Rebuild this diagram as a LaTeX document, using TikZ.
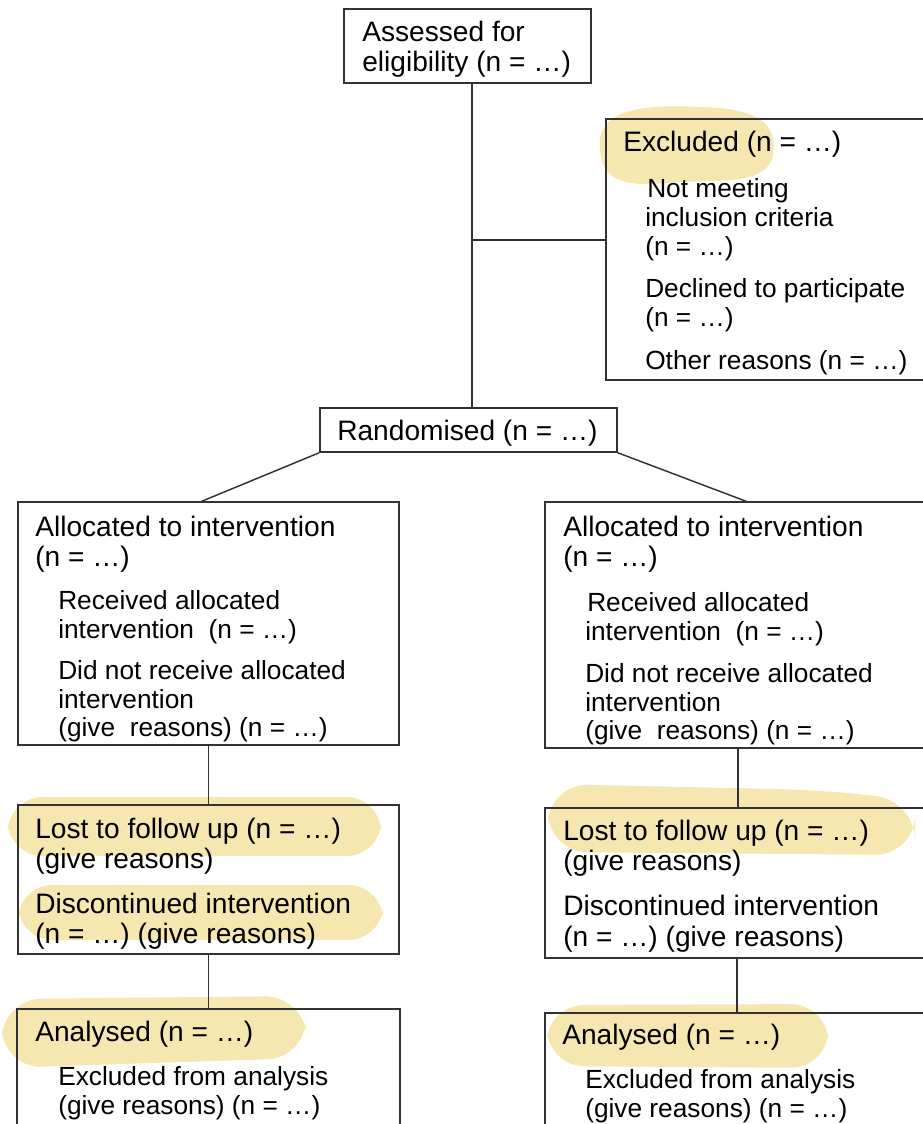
\documentclass[tikz,border=0pt]{standalone}
\usepackage{fontspec}
\setmainfont{Liberation Sans}
\usetikzlibrary{fit,calc}
\definecolor{hl}{RGB}{246,231,176}
\definecolor{ln}{RGB}{50,50,50}
\tikzset{
  box/.style={draw=ln, line width=1.1pt, inner sep=0pt, rectangle},
  conn/.style={draw=ln, line width=1.1pt},
  txt/.style={anchor=base west, inner sep=0pt, font=\fontsize{21.1pt}{25pt}\selectfont, text=black},
  sub/.style={txt, font=\fontsize{19.7pt}{24pt}\selectfont},
  hlight/.style={fill=hl, draw=none, rounded corners=26pt}
}
\begin{document}
\begin{tikzpicture}[x=0.75pt,y=-0.75pt]
\useasboundingbox (0,0) rectangle (923,1124);
% highlights
\fill[hl] (600,150) .. controls (595,110) and (640,104) .. (700,107) .. controls (760,108) and (778,125) .. (773,155) .. controls (768,185) and (720,180) .. (680,182) .. controls (640,185) and (603,190) .. (600,150) -- cycle;
\path[hlight] (8,797) rectangle (381,856);
\path[hlight] (18,885) rectangle (383,940);
\path[hlight, rounded corners=30pt] (2,999) -- (305,996) -- (307,1058) -- (60,1066) -- (2,1068) -- cycle;
\path[hlight, rounded corners=30pt] (548,784) -- (820,790) -- (915,800) -- (915,855) -- (548,852) -- cycle;
\path[hlight, rounded corners=28pt] (547,1005) -- (828,1004) -- (828,1068) -- (547,1066) -- cycle;
% boxes
\node[box, fit={(344,9) (591,83)}] (assess) {};
\node[box, fit={(606,119) (950,380)}] (excl) {};
\node[box, fit={(320,408) (617,452)}] (rand) {};
\node[box, fit={(18,502) (399,745)}] (allocL) {};
\node[box, fit={(545,502) (950,748)}] (allocR) {};
\node[box, fit={(18,805) (399,954)}] (lostL) {};
\node[box, fit={(545,808) (950,958)}] (lostR) {};
\node[box, fit={(17,1009) (400,1160)}] (anaL) {};
\node[box, fit={(545,1013) (950,1160)}] (anaR) {};
% connectors
\coordinate (top) at (472,83);
\coordinate (br) at (472,240);
\draw[conn] (top) -- (top |- rand.north);
\draw[conn] (br) -- (br -| excl.west);
\coordinate (dl) at (200,502);
\coordinate (dr) at (748,502);
\draw[conn] (rand.south west) -- (dl);
\draw[conn] (rand.south east) -- (dr);
\draw[conn] (allocL.south) -- (lostL.north);
\draw[conn] (lostL.south) -- (anaL.north);
\coordinate (vr1) at (738,748);
\coordinate (vr2) at (737,958);
\draw[conn] (vr1) -- (vr1 |- lostR.north);
\draw[conn] (vr2) -- (vr2 |- anaR.north);
% texts
\node[txt] (t1) at (362,42) {Assessed for};
\node[txt] (t2) at (362,72) {eligibility (n = …)};
\node[txt] (t3) at (623,151) {Excluded (n = …)};
\node[sub] (t4) at (647,197) {Not meeting};
\node[sub] (t5) at (645,226) {inclusion criteria};
\node[sub] (t6) at (645,255) {(n = …)};
\node[sub] (t7) at (645,297) {Declined to participate};
\node[sub] (t8) at (645,326) {(n = …)};
\node[sub] (t9) at (645,369) {Other reasons (n = …)};
\node[txt] (t10) at (337,440) {Randomised (n = …)};
% left allocation
\node[txt] (l1) at (35,536) {Allocated to intervention};
\node[txt] (l2) at (35,566) {(n = …)};
\node[sub] (l3) at (58,609) {Received allocated};
\node[sub] (l4) at (58,638) {intervention\ \ (n = …)};
\node[sub] (l5) at (58,679) {Did not receive allocated};
\node[sub] (l6) at (58,708) {intervention};
\node[sub] (l7) at (58,736) {(give\ \ reasons) (n = …)};
% right allocation
\node[txt] (r1) at (563,536) {Allocated to intervention};
\node[txt] (r2) at (563,566) {(n = …)};
\node[sub] (r3) at (587,611) {Received allocated};
\node[sub] (r4) at (585,640) {intervention\ \ (n = …)};
\node[sub] (r5) at (585,682) {Did not receive allocated};
\node[sub] (r6) at (585,711) {intervention};
\node[sub] (r7) at (585,739) {(give\ \ reasons) (n = …)};
% lost
\node[txt] (l8) at (35,838) {Lost to follow up (n = …)};
\node[txt] (l9) at (35,868) {(give reasons)};
\node[txt] (l10) at (35,913) {Discontinued intervention};
\node[txt] (l11) at (35,943) {(n = …) (give reasons)};
\node[txt] (r8) at (563,840) {Lost to follow up (n = …)};
\node[txt] (r9) at (563,870) {(give reasons)};
\node[txt] (r10) at (563,915) {Discontinued intervention};
\node[txt] (r11) at (563,946) {(n = …) (give reasons)};
% analysed
\node[txt] (l12) at (35,1041) {Analysed (n = …)};
\node[sub] (l13) at (58,1085) {Excluded from analysis};
\node[sub] (l14) at (58,1114) {(give reasons) (n = …)};
\node[txt] (r12) at (562,1044) {Analysed (n = …)};
\node[sub] (r13) at (585,1088) {Excluded from analysis};
\node[sub] (r14) at (585,1117) {(give reasons) (n = …)};
\end{tikzpicture}
\end{document}
